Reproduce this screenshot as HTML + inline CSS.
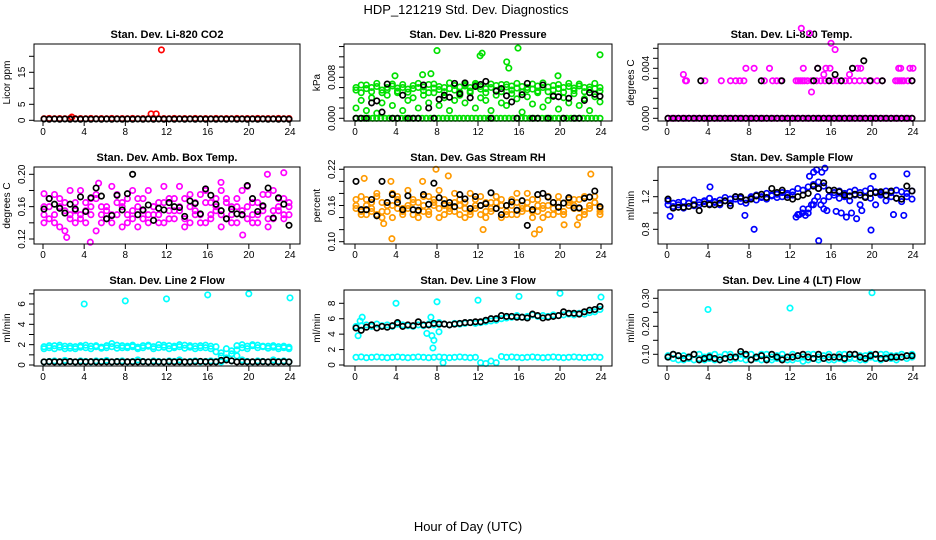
<!DOCTYPE html>
<html><head><meta charset="utf-8">
<style>
html,body{margin:0;padding:0;background:#fff;}
svg{display:block;font-family:"Liberation Sans",sans-serif;}
</style></head>
<body>
<svg id="chart" width="936" height="540" viewBox="0 0 936 540">
<rect x="0" y="0" width="936" height="540" fill="#fff"/>
<text x="466" y="14" font-size="13" text-anchor="middle">HDP_121219  Std. Dev. Diagnostics</text>
<text x="468" y="531" font-size="13" text-anchor="middle">Hour of Day (UTC)</text>
</svg>
<script>
const xTicks=[0,4,8,12,16,20,24];
// CO2
const co2Red=[0.5,0.6,0.5,0.55,0.5,0.6,0.5,0.55,0.5,0.6,0.5,0.55,0.5,0.6,0.5,0.55,0.5,0.6,0.5,0.55,0.5,0.6,0.5,0.55,0.5,0.6,0.5,0.55,0.5,0.6,0.5,0.55,0.5,0.6,0.5,0.55,0.5,0.6,0.5,0.55,0.5,0.6,0.5,0.55,0.5,0.6,0.5,0.55];
const co2OutHours=[2.8,10.5,11.0,11.5];
const co2OutVals=[1.0,2.0,2.0,22.0];
const co2Black=[0.4,0.35,0.4,0.35,0.4,0.35,0.4,0.35,0.4,0.35,0.4,0.35,0.4,0.35,0.4,0.35,0.4,0.35,0.4,0.35,0.4,0.35,0.4,0.35,0.4,0.35,0.4,0.35,0.4,0.35,0.4,0.35,0.4,0.35,0.4,0.35,0.4,0.35,0.4,0.35,0.4,0.35,0.4,0.35,0.4,0.35,0.4,0.35];
// Pressure
const presG1=[0.006,0.0065,0.0058,0.006,0.0062,0.0055,0.006,0.0063,0.0059,0.006,0.0057,0.0064,0.006,0.0061,0.0066,0.0059,0.0062,0.006,0.0058,0.0064,0.0061,0.0063,0.006,0.0065,0.0062,0.0058,0.006,0.0064,0.0066,0.0061,0.0063,0.0059,0.0062,0.006,0.0057,0.0063,0.006,0.0061,0.0064,0.0058,0.006,0.0062,0.0059,0.0063,0.006,0.0061,0.0058,0.006];
const presG2=[0.002,0.0035,0.0015,0.004,0.001,0.003,0.0045,0.0025,0.005,0.0015,0.0035,0.004,0.002,0.0045,0.003,0.005,0.0025,0.004,0.0015,0.0035,0.0045,0.003,0.005,0.002,0.004,0.0035,0.0015,0.0045,0.003,0.0025,0.0048,0.0038,0.0012,0.0042,0.0028,0.005,0.0022,0.0035,0.0045,0.0018,0.004,0.003,0.0048,0.0025,0.0038,0.0015,0.0042,0.0032];
const presG3=[0.0055,0.005,0.0065,0.0052,0.0068,0.005,0.0056,0.0067,0.0053,0.0066,0.0051,0.0058,0.0068,0.0054,0.005,0.0067,0.0056,0.0052,0.0069,0.0055,0.0051,0.0066,0.0053,0.0068,0.0057,0.005,0.0067,0.0054,0.0052,0.0066,0.0055,0.0068,0.0051,0.0056,0.0067,0.0053,0.0069,0.0052,0.0055,0.0066,0.0051,0.0068,0.0054,0.0067,0.0052,0.0056,0.0068,0.0053];
const presZero=[0,0,0,0,0,0,0,0,0,0,0,0,0,0,0,0,0,0,0,0,0,0,0,0,0,0,0,0,0,0,0,0,0,0,0,0,0,0,0,0,0,0,0,0,0,0,0,0,0,0,0,0,0,0,0,0,0,0,0,0];
const presOutHours=[3.9,6.6,7.4,8.0,12.2,12.4,14.8,15.0,15.9,19.8,23.9];
const presOutVals=[0.0083,0.0085,0.0087,0.0132,0.0122,0.0127,0.011,0.0098,0.0137,0.0083,0.0124];
const presBlack=[0,0,0,0.003,0.0034,0.0012,0.0067,0,0,0.0045,0,0,0,0.0065,0.002,0,0.0037,0.0045,0.0041,0.0068,0.0048,0.0069,0.004,0.0062,0.0066,0.0072,0,0.0053,0.0058,0.0044,0.0032,0,0.0046,0.0068,0,0,0.0065,0,0.0043,0.0042,0,0.0039,0,0,0.0035,0.005,0.0047,0.0043];
// Li-820 temp
const tempZero=[0,0,0,0,0,0,0,0,0,0,0,0,0,0,0,0,0,0,0,0,0,0,0,0,0,0,0,0,0,0,0,0,0,0,0,0,0,0,0,0,0,0,0,0,0,0,0,0,0,0,0,0,0,0,0,0,0,0,0,0,0,0,0,0,0,0,0,0,0,0];
const tempMHours=[1.8,1.9,3.7,5.3,6.2,6.7,7.1,7.5,9.5,10.3,10.7,11.1,12.6,12.8,13.0,13.2,13.4,13.7,14.1,14.6,15.0,15.4,15.8,16.2,16.6,17.0,17.4,17.8,18.3,18.8,19.3,19.9,20.5,21.0,22.3,22.5,22.7,22.9,23.1,23.5,23.9,7.7,8.5,10.0,13.3,14.7,15.5,15.9,18.6,18.9,22.6,22.8,23.7,24.0,1.6,13.1,13.9,16.0,16.4,15.3,17.8,14.1];
const tempMVals=[0.003,0.003,0.003,0.003,0.003,0.003,0.003,0.003,0.003,0.003,0.003,0.003,0.003,0.003,0.003,0.003,0.003,0.003,0.003,0.003,0.003,0.003,0.003,0.003,0.003,0.003,0.003,0.003,0.003,0.003,0.003,0.003,0.003,0.003,0.003,0.003,0.003,0.003,0.003,0.003,0.003,0.004,0.004,0.004,0.004,0.004,0.004,0.004,0.004,0.004,0.004,0.004,0.004,0.004,0.0035,0.0072,0.0068,0.006,0.0055,0.0035,0.0035,0.0021];
const tempKZero=[0,0,0,0,0,0,0,0,0,0,0,0,0,0,0,0,0,0,0,0,0,0,0,0,0,0,0,0,0,0,0,0,0,0,0,0,0,0,0,0,0,0,0,0,0,0,0,0];
const tempKHours=[3.3,9.2,11.2,14.3,15.8,17.0,19.8,21.0,23.9,14.7,18.1,16.4,19.2];
const tempKVals=[0.003,0.003,0.003,0.003,0.003,0.003,0.003,0.003,0.003,0.004,0.004,0.0035,0.0046];
// Box temp
const bt1=[0.14,0.17,0.15,0.16,0.13,0.18,0.155,0.145,0.165,0.15,0.175,0.14,0.16,0.185,0.15,0.135,0.17,0.155,0.16,0.145,0.18,0.15,0.165,0.14,0.17,0.155,0.185,0.145,0.16,0.15,0.175,0.14,0.165,0.155,0.18,0.145,0.16,0.17,0.15,0.185,0.14,0.165,0.155,0.175,0.145,0.16,0.17,0.15];
const bt2=[0.16,0.145,0.175,0.135,0.165,0.15,0.14,0.18,0.155,0.17,0.13,0.16,0.145,0.15,0.175,0.165,0.14,0.18,0.135,0.17,0.15,0.16,0.14,0.185,0.145,0.17,0.155,0.135,0.175,0.165,0.14,0.18,0.15,0.17,0.135,0.165,0.15,0.14,0.18,0.16,0.15,0.14,0.175,0.135,0.18,0.155,0.145,0.165];
const bt3=[0.15,0.16,0.14,0.17,0.155,0.145,0.165,0.15,0.14,0.16,0.17,0.15,0.155,0.14,0.165,0.16,0.15,0.145,0.17,0.155,0.14,0.16,0.15,0.165,0.155,0.145,0.16,0.17,0.14,0.155,0.15,0.165,0.145,0.16,0.15,0.17,0.14,0.16,0.155,0.145,0.165,0.15,0.16,0.145,0.155,0.17,0.15,0.16];
const btOutHours=[2.3,4.6,5.4,19.4,21.8,23.4,0.1,17.3];
const btOutVals=[0.122,0.116,0.189,0.125,0.2,0.202,0.176,0.19];
const btBlack=[0.157,0.17,0.163,0.158,0.152,0.163,0.157,0.172,0.154,0.171,0.183,0.173,0.145,0.149,0.174,0.156,0.176,0.2,0.15,0.156,0.162,0.143,0.158,0.156,0.165,0.16,0.159,0.148,0.167,0.164,0.151,0.182,0.174,0.163,0.155,0.145,0.157,0.151,0.15,0.186,0.17,0.154,0.161,0.183,0.146,0.171,0.163,0.137];
// Gas stream RH
const rh1=[0.155,0.175,0.145,0.165,0.18,0.15,0.16,0.14,0.17,0.155,0.185,0.145,0.165,0.15,0.175,0.16,0.14,0.17,0.155,0.18,0.145,0.165,0.15,0.16,0.175,0.14,0.165,0.155,0.17,0.145,0.16,0.18,0.15,0.165,0.14,0.17,0.155,0.16,0.145,0.175,0.15,0.165,0.155,0.17,0.145,0.16,0.175,0.15];
const rh2=[0.17,0.145,0.16,0.15,0.175,0.14,0.165,0.18,0.155,0.145,0.16,0.17,0.14,0.175,0.15,0.165,0.185,0.145,0.16,0.15,0.17,0.14,0.18,0.155,0.145,0.165,0.15,0.175,0.14,0.16,0.17,0.145,0.155,0.18,0.15,0.16,0.14,0.175,0.165,0.15,0.145,0.17,0.16,0.14,0.175,0.155,0.165,0.145];
const rh3=[0.16,0.15,0.17,0.155,0.145,0.165,0.15,0.16,0.175,0.15,0.155,0.165,0.15,0.16,0.145,0.17,0.155,0.16,0.15,0.165,0.16,0.155,0.145,0.17,0.16,0.15,0.155,0.165,0.16,0.15,0.145,0.165,0.16,0.155,0.17,0.15,0.16,0.145,0.155,0.165,0.15,0.16,0.17,0.155,0.15,0.16,0.165,0.155];
const rhOutHours=[0.9,3.6,3.5,6.6,12.5,17.5,18.0,20.4,21.7,23.0,2.8,9.1,7.9];
const rhOutVals=[0.205,0.105,0.2,0.2,0.12,0.113,0.12,0.128,0.128,0.212,0.13,0.209,0.22];
const rhBlack=[0.2,0.153,0.153,0.17,0.143,0.2,0.165,0.178,0.165,0.153,0.176,0.153,0.152,0.178,0.162,0.197,0.173,0.163,0.165,0.158,0.178,0.171,0.155,0.175,0.16,0.163,0.181,0.155,0.145,0.16,0.166,0.152,0.168,0.127,0.153,0.178,0.18,0.174,0.165,0.157,0.164,0.173,0.156,0.156,0.172,0.174,0.184,0.158];
// Sample flow
const sf1=[1.15,1.12,1.1,1.14,1.12,1.16,1.13,1.15,1.18,1.14,1.16,1.19,1.17,1.2,1.18,1.16,1.2,1.22,1.19,1.24,1.21,1.23,1.25,1.22,1.26,1.3,1.28,1.32,1.35,1.3,1.33,1.28,1.25,1.27,1.24,1.26,1.28,1.25,1.27,1.3,1.26,1.24,1.27,1.25,1.28,1.26,1.24,1.27];
const sf2=[1.1,1.08,1.13,1.06,1.12,1.09,1.1,1.14,1.11,1.13,1.1,1.15,1.12,1.17,1.14,1.12,1.18,1.16,1.2,1.17,1.22,1.19,1.2,1.24,1.22,0.98,1.05,1.0,1.1,1.38,1.15,1.2,1.22,1.18,1.2,1.15,1.22,1.1,1.2,1.18,1.1,1.22,1.15,1.2,1.18,1.14,1.2,1.17];
const sf3Hours=[12.6,12.9,13.2,13.5,13.8,14.1,14.4,14.7,15.0,15.3,15.6,16.5,17.0,17.5,18.0,18.5,19.0,13.9,14.3,14.6,15.1,15.4];
const sf3Vals=[0.95,0.98,1.0,0.97,1.05,1.1,1.15,1.2,1.1,1.05,1.03,1.02,1.0,0.95,1.0,0.93,1.03,1.45,1.5,1.53,1.5,1.55];
const sfOutHours=[0.3,7.6,8.5,14.8,19.9,22.1,23.1,23.4,20.1,4.2];
const sfOutVals=[0.96,0.97,0.8,0.66,0.79,0.98,0.97,1.48,1.45,1.32];
const sfBlack=[1.17,1.06,1.07,1.07,1.08,1.1,1.03,1.11,1.1,1.1,1.12,1.15,1.09,1.2,1.2,1.16,1.17,1.21,1.23,1.19,1.3,1.25,1.28,1.19,1.17,1.2,1.22,1.24,1.33,1.3,1.37,1.28,1.28,1.26,1.22,1.21,1.23,1.22,1.19,1.24,1.25,1.26,1.22,1.27,1.18,1.17,1.33,1.27];
// Line 2
const l2a=[1.8,1.7,1.9,1.75,1.85,1.65,1.8,1.9,1.7,1.85,1.8,1.75,1.9,1.8,1.95,1.7,1.85,1.8,1.75,1.9,1.85,1.8,2.0,1.75,1.9,1.85,1.8,1.95,1.75,1.85,1.9,1.7,1.85,1.8,1.2,1.6,1.4,1.9,2.0,1.85,1.9,1.95,1.8,1.85,1.75,1.8,1.7,1.75];
const l2b=[1.6,1.9,1.6,1.95,1.6,1.85,1.6,1.75,1.95,1.6,1.9,1.65,1.7,2.1,1.65,1.9,1.7,1.95,1.6,1.7,1.95,1.6,1.7,1.95,1.6,1.7,2.0,1.65,1.9,1.6,1.7,1.95,1.6,1.3,0.9,0.6,1.1,1.5,1.7,1.6,2.0,1.7,1.85,1.65,1.9,1.6,1.85,1.6];
const l2low=[0.3,0.35,0.4,0.3,0.45,0.35,0.3,0.4,0.35,0.3,0.4,0.35,0.45,0.3,0.35,0.4,0.3,0.35,0.5,0.35,0.3,0.4,0.35,0.3,0.4,0.35,0.5,0.3,0.35,0.4,0.3,0.35,0.4,0.35,0.3,0.7,0.4,0.9,0.5,0.35,0.3,0.4,0.35,0.3,0.5,0.35,0.4,0.3];
const l2OutHours=[4,8,12,16,20,24];
const l2OutVals=[6.0,6.3,6.5,6.9,7.0,6.6];
const l2Black=[0.3,0.32,0.3,0.31,0.3,0.33,0.3,0.31,0.3,0.32,0.3,0.3,0.31,0.3,0.32,0.3,0.31,0.3,0.3,0.32,0.3,0.31,0.3,0.3,0.32,0.3,0.31,0.3,0.3,0.32,0.35,0.31,0.3,0.3,0.45,0.5,0.4,0.3,0.32,0.3,0.31,0.3,0.32,0.3,0.31,0.3,0.32,0.3];
// Line 3
const l3a=[1.0,1.05,0.95,1.0,1.05,1.0,0.95,1.0,1.05,1.0,0.95,1.0,1.05,1.0,0.95,1.0,1.05,1.0,0.95,1.0,1.05,1.0,0.95,1.0,0.3,0.2,0.5,0.3,1.1,1.0,1.05,1.0,0.95,1.0,1.05,1.0,0.95,1.0,1.05,1.0,0.95,1.0,1.05,1.0,0.95,1.0,1.05,1.0];
const l3b=[5.0,5.1,5.2,5.0,5.3,5.1,5.2,5.0,5.3,5.2,5.1,5.0,5.2,5.1,5.3,5.2,5.5,5.3,5.2,5.4,5.3,5.4,5.5,5.4,5.5,5.6,5.7,5.8,6.0,6.1,6.2,6.4,6.2,6.3,6.5,6.3,6.4,6.3,6.5,6.4,6.5,6.6,6.5,6.7,6.6,6.8,6.9,7.2];
const l3OutHours=[4,8,12,16,20,24,0.3,0.5,0.7,7.4,7.5,7.6,7.7,7.0,8.2,8.6];
const l3OutVals=[8.0,8.2,8.4,8.9,9.3,8.8,3.8,5.7,6.2,6.2,3.8,2.2,3.2,4.1,4.3,0.3];
const l3Black=[4.8,4.5,4.9,5.2,4.8,5.0,4.9,5.1,5.5,5.0,5.2,5.1,5.6,5.2,5.2,5.4,5.3,5.3,5.2,5.3,5.4,5.5,5.5,5.6,5.6,5.8,6.0,6.0,6.4,6.3,6.3,6.2,6.2,6.1,6.6,6.4,6.1,6.2,6.3,6.4,6.9,6.7,6.7,6.6,6.9,7.1,7.2,7.6];
// Line 4
const l4a=[0.09,0.085,0.095,0.08,0.09,0.1,0.085,0.09,0.095,0.08,0.09,0.085,0.1,0.09,0.085,0.095,0.08,0.09,0.1,0.085,0.09,0.095,0.085,0.09,0.08,0.095,0.09,0.1,0.085,0.09,0.095,0.08,0.09,0.085,0.1,0.09,0.085,0.08,0.095,0.09,0.085,0.1,0.09,0.085,0.095,0.09,0.085,0.1];
const l4b=[0.095,0.1,0.08,0.095,0.085,0.08,0.1,0.08,0.085,0.1,0.08,0.1,0.08,0.085,0.1,0.08,0.1,0.085,0.08,0.1,0.08,0.085,0.1,0.08,0.1,0.085,0.075,0.08,0.1,0.08,0.085,0.1,0.08,0.1,0.08,0.085,0.1,0.095,0.08,0.1,0.085,0.08,0.1,0.095,0.08,0.1,0.095,0.09];
const l4OutHours=[4,12,20];
const l4OutVals=[0.26,0.265,0.32];
const l4Black=[0.09,0.1,0.095,0.085,0.09,0.1,0.08,0.085,0.09,0.085,0.08,0.085,0.09,0.09,0.11,0.1,0.08,0.09,0.095,0.08,0.1,0.09,0.08,0.09,0.09,0.095,0.1,0.09,0.085,0.1,0.085,0.09,0.09,0.09,0.085,0.1,0.1,0.09,0.085,0.095,0.1,0.085,0.085,0.09,0.09,0.09,0.095,0.095];

const NS='http://www.w3.org/2000/svg';
const svg=document.getElementById('chart');
function mk(tag,attrs,parent){const e=document.createElementNS(NS,tag);for(const k in attrs)e.setAttribute(k,attrs[k]);(parent||svg).appendChild(e);return e;}
function evenHours(n){const h=[];for(let i=0;i<n;i++)h.push(0.1+i*23.8/(n-1));return h;}

const panels=[
 {name:'co2',title:'Stan. Dev. Li-820 CO2',yl:'Licor ppm',l:34,t:44,r:300,b:121,x0:43,x24:290,v0:0,p0:120.3,v1:20,p1:56.3,ticks:[0,5,10,15,20],labels:['0','5','','15',''],
  series:[[null,co2Red,'#ff0000'],[co2OutHours,co2OutVals,'#ff0000'],[null,co2Black,'#000']]},
 {name:'pressure',title:'Stan. Dev. Li-820 Pressure',yl:'kPa',l:344,t:44,r:612,b:121,x0:355,x24:601,v0:0,p0:118.3,v1:0.008,p1:77.3,ticks:[0,0.002,0.004,0.006,0.008,0.010,0.012,0.014],labels:['0.000','','','','0.008','','',''],
  series:[[null,presG1,'#00e000'],[null,presG2,'#00e000'],[null,presG3,'#00e000'],[null,presZero,'#00e000'],[presOutHours,presOutVals,'#00e000'],[null,presBlack,'#000']]},
 {name:'licor-temp',title:'Stan. Dev. Li-820 Temp.',yl:'degrees C',l:658,t:44,r:925,b:121,x0:667,x24:913,v0:0,p0:118.3,v1:0.004,p1:68.3,ticks:[0,0.0008,0.0016,0.0024,0.0032,0.004,0.0048,0.0056],labels:['0.000','','','','','0.004','',''],
  series:[[null,tempZero,'#ff00ff'],[tempMHours,tempMVals,'#ff00ff'],[null,tempKZero,'#000'],[tempKHours,tempKVals,'#000']]},
 {name:'box-temp',title:'Stan. Dev. Amb. Box Temp.',yl:'degrees C',l:34,t:167,r:300,b:244,x0:43,x24:290,v0:0.12,p0:239,v1:0.20,p1:174.3,ticks:[0.12,0.14,0.16,0.18,0.20],labels:['0.12','','0.16','','0.20'],
  series:[[null,bt1,'#ff00ff'],[null,bt2,'#ff00ff'],[null,bt3,'#ff00ff'],[btOutHours,btOutVals,'#ff00ff'],[null,btBlack,'#000']]},
 {name:'gas-rh',title:'Stan. Dev. Gas Stream RH',yl:'percent',l:344,t:167,r:612,b:244,x0:355,x24:601,v0:0.10,p0:241.7,v1:0.22,p1:169.3,ticks:[0.10,0.12,0.14,0.16,0.18,0.20,0.22],labels:['0.10','','','0.16','','','0.22'],
  series:[[null,rh1,'#ff9a00'],[null,rh2,'#ff9a00'],[null,rh3,'#ff9a00'],[rhOutHours,rhOutVals,'#ff9a00'],[null,rhBlack,'#000']]},
 {name:'sample-flow',title:'Stan. Dev. Sample Flow',yl:'ml/min',l:658,t:167,r:925,b:244,x0:667,x24:913,v0:0.8,p0:229.3,v1:1.2,p1:196.7,ticks:[0.8,1.0,1.2,1.4],labels:['0.8','','1.2',''],
  series:[[null,sf1,'#0000ff'],[null,sf2,'#0000ff'],[sf3Hours,sf3Vals,'#0000ff'],[sfOutHours,sfOutVals,'#0000ff'],[null,sfBlack,'#000']]},
 {name:'line2-flow',title:'Stan. Dev. Line 2 Flow',yl:'ml/min',l:34,t:290,r:300,b:366,x0:43,x24:290,v0:0,p0:365,v1:6,p1:304,ticks:[0,1,2,3,4,5,6,7],labels:['0','','2','','4','','6',''],
  series:[[null,l2a,'#00ffff'],[null,l2b,'#00ffff'],[null,l2low,'#00ffff'],[l2OutHours,l2OutVals,'#00ffff'],[null,l2Black,'#000']]},
 {name:'line3-flow',title:'Stan. Dev. Line 3 Flow',yl:'ml/min',l:344,t:290,r:612,b:366,x0:355,x24:601,v0:0,p0:365,v1:8,p1:303.3,ticks:[0,2,4,6,8],labels:['0','2','4','6','8'],
  series:[[null,l3a,'#00ffff'],[null,l3b,'#00ffff'],[l3OutHours,l3OutVals,'#00ffff'],[null,l3Black,'#000']]},
 {name:'line4-flow',title:'Stan. Dev. Line 4 (LT) Flow',yl:'ml/min',l:658,t:290,r:925,b:366,x0:667,x24:913,v0:0.10,p0:354.3,v1:0.30,p1:298.3,ticks:[0.10,0.15,0.20,0.25,0.30],labels:['0.10','','0.20','','0.30'],
  series:[[null,l4a,'#00ffff'],[null,l4b,'#00ffff'],[l4OutHours,l4OutVals,'#00ffff'],[null,l4Black,'#000']]}
];

panels.forEach(P=>{
  const g=mk('g',{});
  
  
  const xs=h=>P.x0+(h/24)*(P.x24-P.x0);
  const ys=v=>P.p0+(v-P.v0)*(P.p1-P.p0)/(P.v1-P.v0);
  const tt=mk('text',{x:(P.l+P.r)/2,y:P.t-6,'font-size':11,'font-weight':'bold','text-anchor':'middle'},g);
  tt.textContent=P.title;
  
  
  const pg=mk('g',{fill:'none','stroke-width':1.7},g);
  
  
  P.series.forEach(s=>{
    const vals=s[1];const hrs=s[0]||evenHours(vals.length);
    vals.forEach((v,i)=>{
      const c=mk('circle',{cx:xs(hrs[i]).toFixed(1),cy:ys(v).toFixed(1),r:2.7,stroke:s[2]},pg);
      
      
    });
  });
  const box=mk('rect',{x:P.l,y:P.t,width:P.r-P.l,height:P.b-P.t,fill:'none',stroke:'#000','stroke-width':1},g);
  
  
  const xa=mk('g',{stroke:'#000','stroke-width':1},g);
  
  
  mk('line',{x1:xs(0),x2:xs(24),y1:P.b,y2:P.b},xa);
  xTicks.forEach(t=>{
    mk('line',{x1:xs(t),x2:xs(t),y1:P.b,y2:P.b+5},xa);
    const lb=mk('text',{x:xs(t),y:P.b+14,'font-size':10,'text-anchor':'middle',stroke:'none'},xa);
    lb.textContent=String(t);
    
    
  });
  const ya=mk('g',{stroke:'#000','stroke-width':1},g);
  
  
  mk('line',{x1:P.l,x2:P.l,y1:ys(P.ticks[0]),y2:ys(P.ticks[P.ticks.length-1])},ya);
  P.ticks.forEach((t,i)=>{
    const y=ys(t);
    mk('line',{x1:P.l-5,x2:P.l,y1:y,y2:y},ya);
    if(P.labels[i]){
      const lb=mk('text',{x:P.l-9,y:y,'font-size':10,'text-anchor':'middle',stroke:'none',transform:`rotate(-90 ${P.l-9} ${y})`},ya);
      lb.textContent=P.labels[i];
      
      
    }
  });
  const cy=(P.t+P.b)/2;
  const yt=mk('text',{x:P.l-24,y:cy,'font-size':10,'text-anchor':'middle',transform:`rotate(-90 ${P.l-24} ${cy})`},g);
  yt.textContent=P.yl;
  
  
});
</script>
</body></html>
